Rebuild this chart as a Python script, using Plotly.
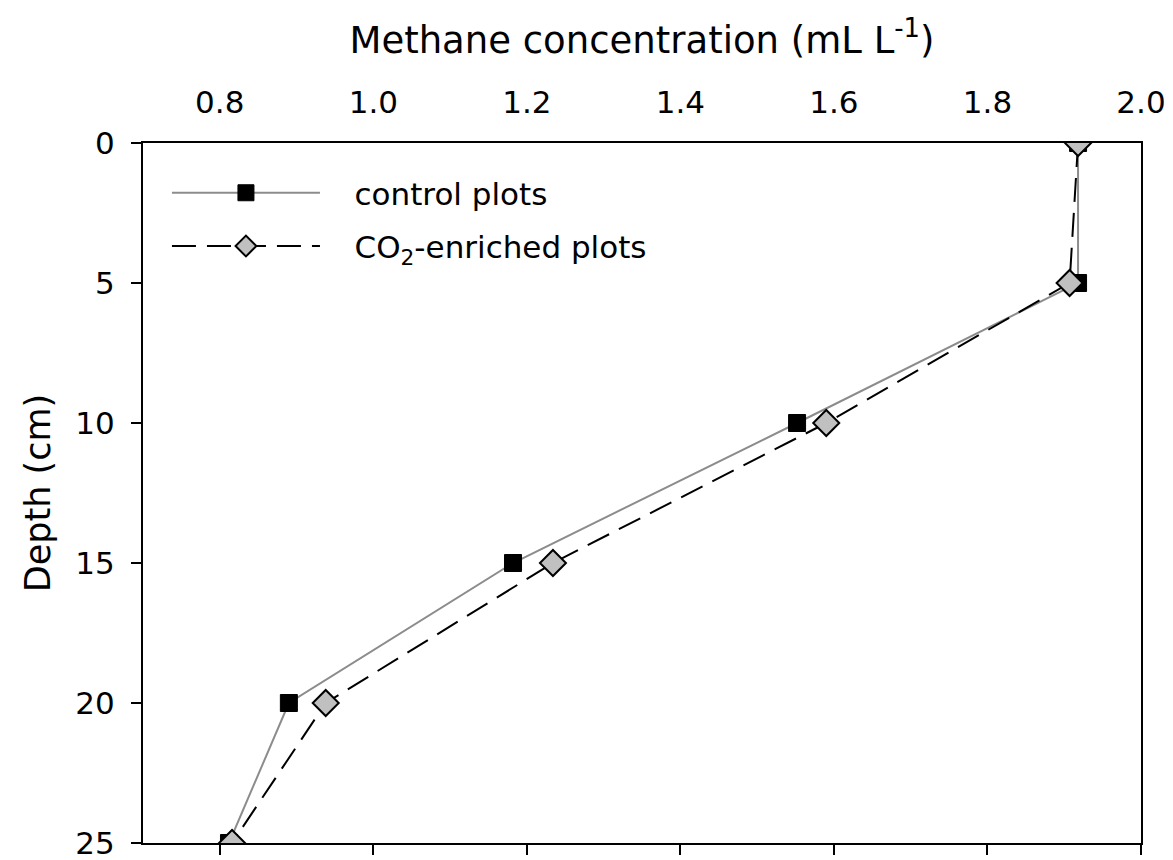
import plotly.graph_objects as go

# Depth profile of soil-gas methane
depth_cm = [0, 5, 10, 15, 20, 25]
control_ch4 = [1.918, 1.918, 1.552, 1.182, 0.890, 0.812]
co2_ch4 = [1.918, 1.907, 1.590, 1.234, 0.938, 0.816]

x_ticks = [0.8, 1.0, 1.2, 1.4, 1.6, 1.8, 2.0]
x_tick_text = ["0.8", "1.0", "1.2", "1.4", "1.6", "1.8", "2.0"]
y_ticks = [0, 5, 10, 15, 20, 25]

FONT = "DejaVu Sans"
PAD = "\u00a0\u00a0\u00a0"  # gap between legend sample and its label

fig = go.Figure()

fig.add_trace(go.Scatter(
    x=control_ch4, y=depth_cm, mode="lines+markers",
    name=PAD + "control plots", legendgroup="a",
    line=dict(color="#8c8c8c", width=2),
    marker=dict(symbol="square", size=17, color="black",
                line=dict(color="black", width=1)),
))
fig.add_trace(go.Scatter(
    x=co2_ch4, y=depth_cm, mode="lines+markers",
    name=PAD + "CO<sub>2</sub>-enriched plots", legendgroup="b",
    line=dict(color="black", width=2, dash="24px,11px"),
    marker=dict(symbol="diamond", size=20, color="#c0c0c0",
                line=dict(color="black", width=2)),
))

# invisible helper so the bottom axis carries the tick marks
fig.add_trace(go.Scatter(
    x=[x_ticks[0], x_ticks[-1]], y=[depth_cm[0], depth_cm[-1]],
    xaxis="x2", mode="markers", marker=dict(opacity=0),
    showlegend=False, hoverinfo="skip",
))

fig.update_layout(
    width=1173, height=860,
    margin=dict(l=143, r=32, t=143, b=17),
    paper_bgcolor="white", plot_bgcolor="white",
    font=dict(family=FONT, color="black"),
    title=dict(
        text="Methane concentration (mL L<sup>-1</sup>)",
        font=dict(family=FONT, size=37, color="black"),
        xref="paper", yref="container",
        x=0.5, xanchor="center",
        y=1 - 40 / 860, yanchor="middle",
    ),
    xaxis=dict(
        side="top", range=[0.7, 2.0], automargin=False,
        tickvals=x_ticks, ticktext=x_tick_text,
        ticks="", ticklabelstandoff=16, ticklabeloverflow="allow",
        tickfont=dict(family=FONT, size=31, color="black"),
        showline=True, linecolor="black", linewidth=2,
        showgrid=False, zeroline=False,
    ),
    xaxis2=dict(
        overlaying="x", side="bottom", range=[0.7, 2.0], automargin=False,
        tickvals=x_ticks, showticklabels=False,
        ticks="outside", ticklen=10, tickwidth=2, tickcolor="black",
        showline=True, linecolor="black", linewidth=2,
        showgrid=False, zeroline=False,
    ),
    yaxis=dict(
        range=[25, 0], tickvals=y_ticks, automargin=False,
        ticks="outside", ticklen=10, tickwidth=2, tickcolor="black",
        ticklabelstandoff=10, ticklabeloverflow="allow",
        tickfont=dict(family=FONT, size=31, color="black"),
        showline=True, linecolor="black", linewidth=2, mirror=True,
        showgrid=False, zeroline=False,
        title=dict(text="Depth (cm)", font=dict(family=FONT, size=35, color="black"),
                   standoff=14),
    ),
    legend=dict(
        x=0.024, y=0.967, xanchor="left", yanchor="top",
        bgcolor="rgba(0,0,0,0)", itemwidth=148,
        font=dict(family=FONT, size=31, color="black"),
        traceorder="grouped", tracegroupgap=10,
    ),
)

fig.write_html("out.html")
